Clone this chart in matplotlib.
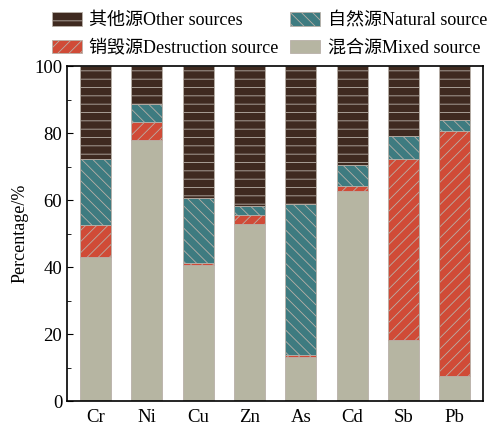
import numpy as np
import matplotlib.pyplot as plt
import matplotlib as mpl

mpl.rcParams.update({
    "font.family": ["Liberation Serif", "Noto Sans CJK SC"],
    "font.size": 12,
    "hatch.linewidth": 0.6,
})

elements = ["Cr", "Ni", "Cu", "Zn", "As", "Cd", "Sb", "Pb"]
mixed       = [43.0, 78.0, 40.7, 53.0, 13.2, 62.7, 18.1, 7.6]
destruction = [9.7, 5.2, 0.5, 2.6, 0.7, 1.5, 54.2, 73.1]
natural     = [19.5, 5.5, 19.3, 2.5, 44.8, 6.2, 6.7, 3.2]
other = [100 - m - d - n for m, d, n in zip(mixed, destruction, natural)]

labels = ["其他源Other sources", "销毁源Destruction source",
          "自然源Natural source", "混合源Mixed source"]

fig = plt.figure(figsize=(4.94, 4.29), dpi=100)
ax = fig.add_axes([0.136, 0.065, 0.842, 0.781])

x = np.arange(len(elements))
w = 0.6
edge = "#b8b0a8"
b_mix = ax.bar(x, mixed, w, color="#b6b5a2", edgecolor=edge, linewidth=0.6)
bottom = np.array(mixed)
b_des = ax.bar(x, destruction, w, bottom=bottom, color="#d04b37",
               edgecolor=edge, linewidth=0.6, hatch="///")
bottom = bottom + np.array(destruction)
b_nat = ax.bar(x, natural, w, bottom=bottom, color="#3e7b80",
               edgecolor=edge, linewidth=0.6, hatch="\\\\\\")
bottom = bottom + np.array(natural)
b_oth = ax.bar(x, other, w, bottom=bottom, color="#3f2a20",
               edgecolor=edge, linewidth=0.6, hatch="--")

ax.set_xlim(-0.55, len(elements) - 0.45)
ax.set_ylim(0, 100)
ax.set_xticks(x)
ax.set_xticklabels(elements, fontsize=13.5)
ax.set_yticks([0, 20, 40, 60, 80, 100])
ax.set_yticks([10, 30, 50, 70, 90], minor=True)
ax.tick_params(axis="y", direction="in", labelsize=13.5, length=4)
ax.tick_params(axis="y", which="minor", direction="in", length=3)
ax.tick_params(axis="x", length=0, pad=6)
ax.set_ylabel("Percentage/%", fontsize=13)
for s in ax.spines.values():
    s.set_linewidth(1.2)

fig.legend([b_oth, b_des, b_nat, b_mix], labels, ncol=2, frameon=False,
           loc="upper left", bbox_to_anchor=(0.097, 0.98), fontsize=13,
           handlelength=1.7, handleheight=0.75, columnspacing=0.6,
           labelspacing=0.6, handletextpad=0.4, borderpad=0.2,
           borderaxespad=0)

fig.savefig("out.png", dpi=100)
